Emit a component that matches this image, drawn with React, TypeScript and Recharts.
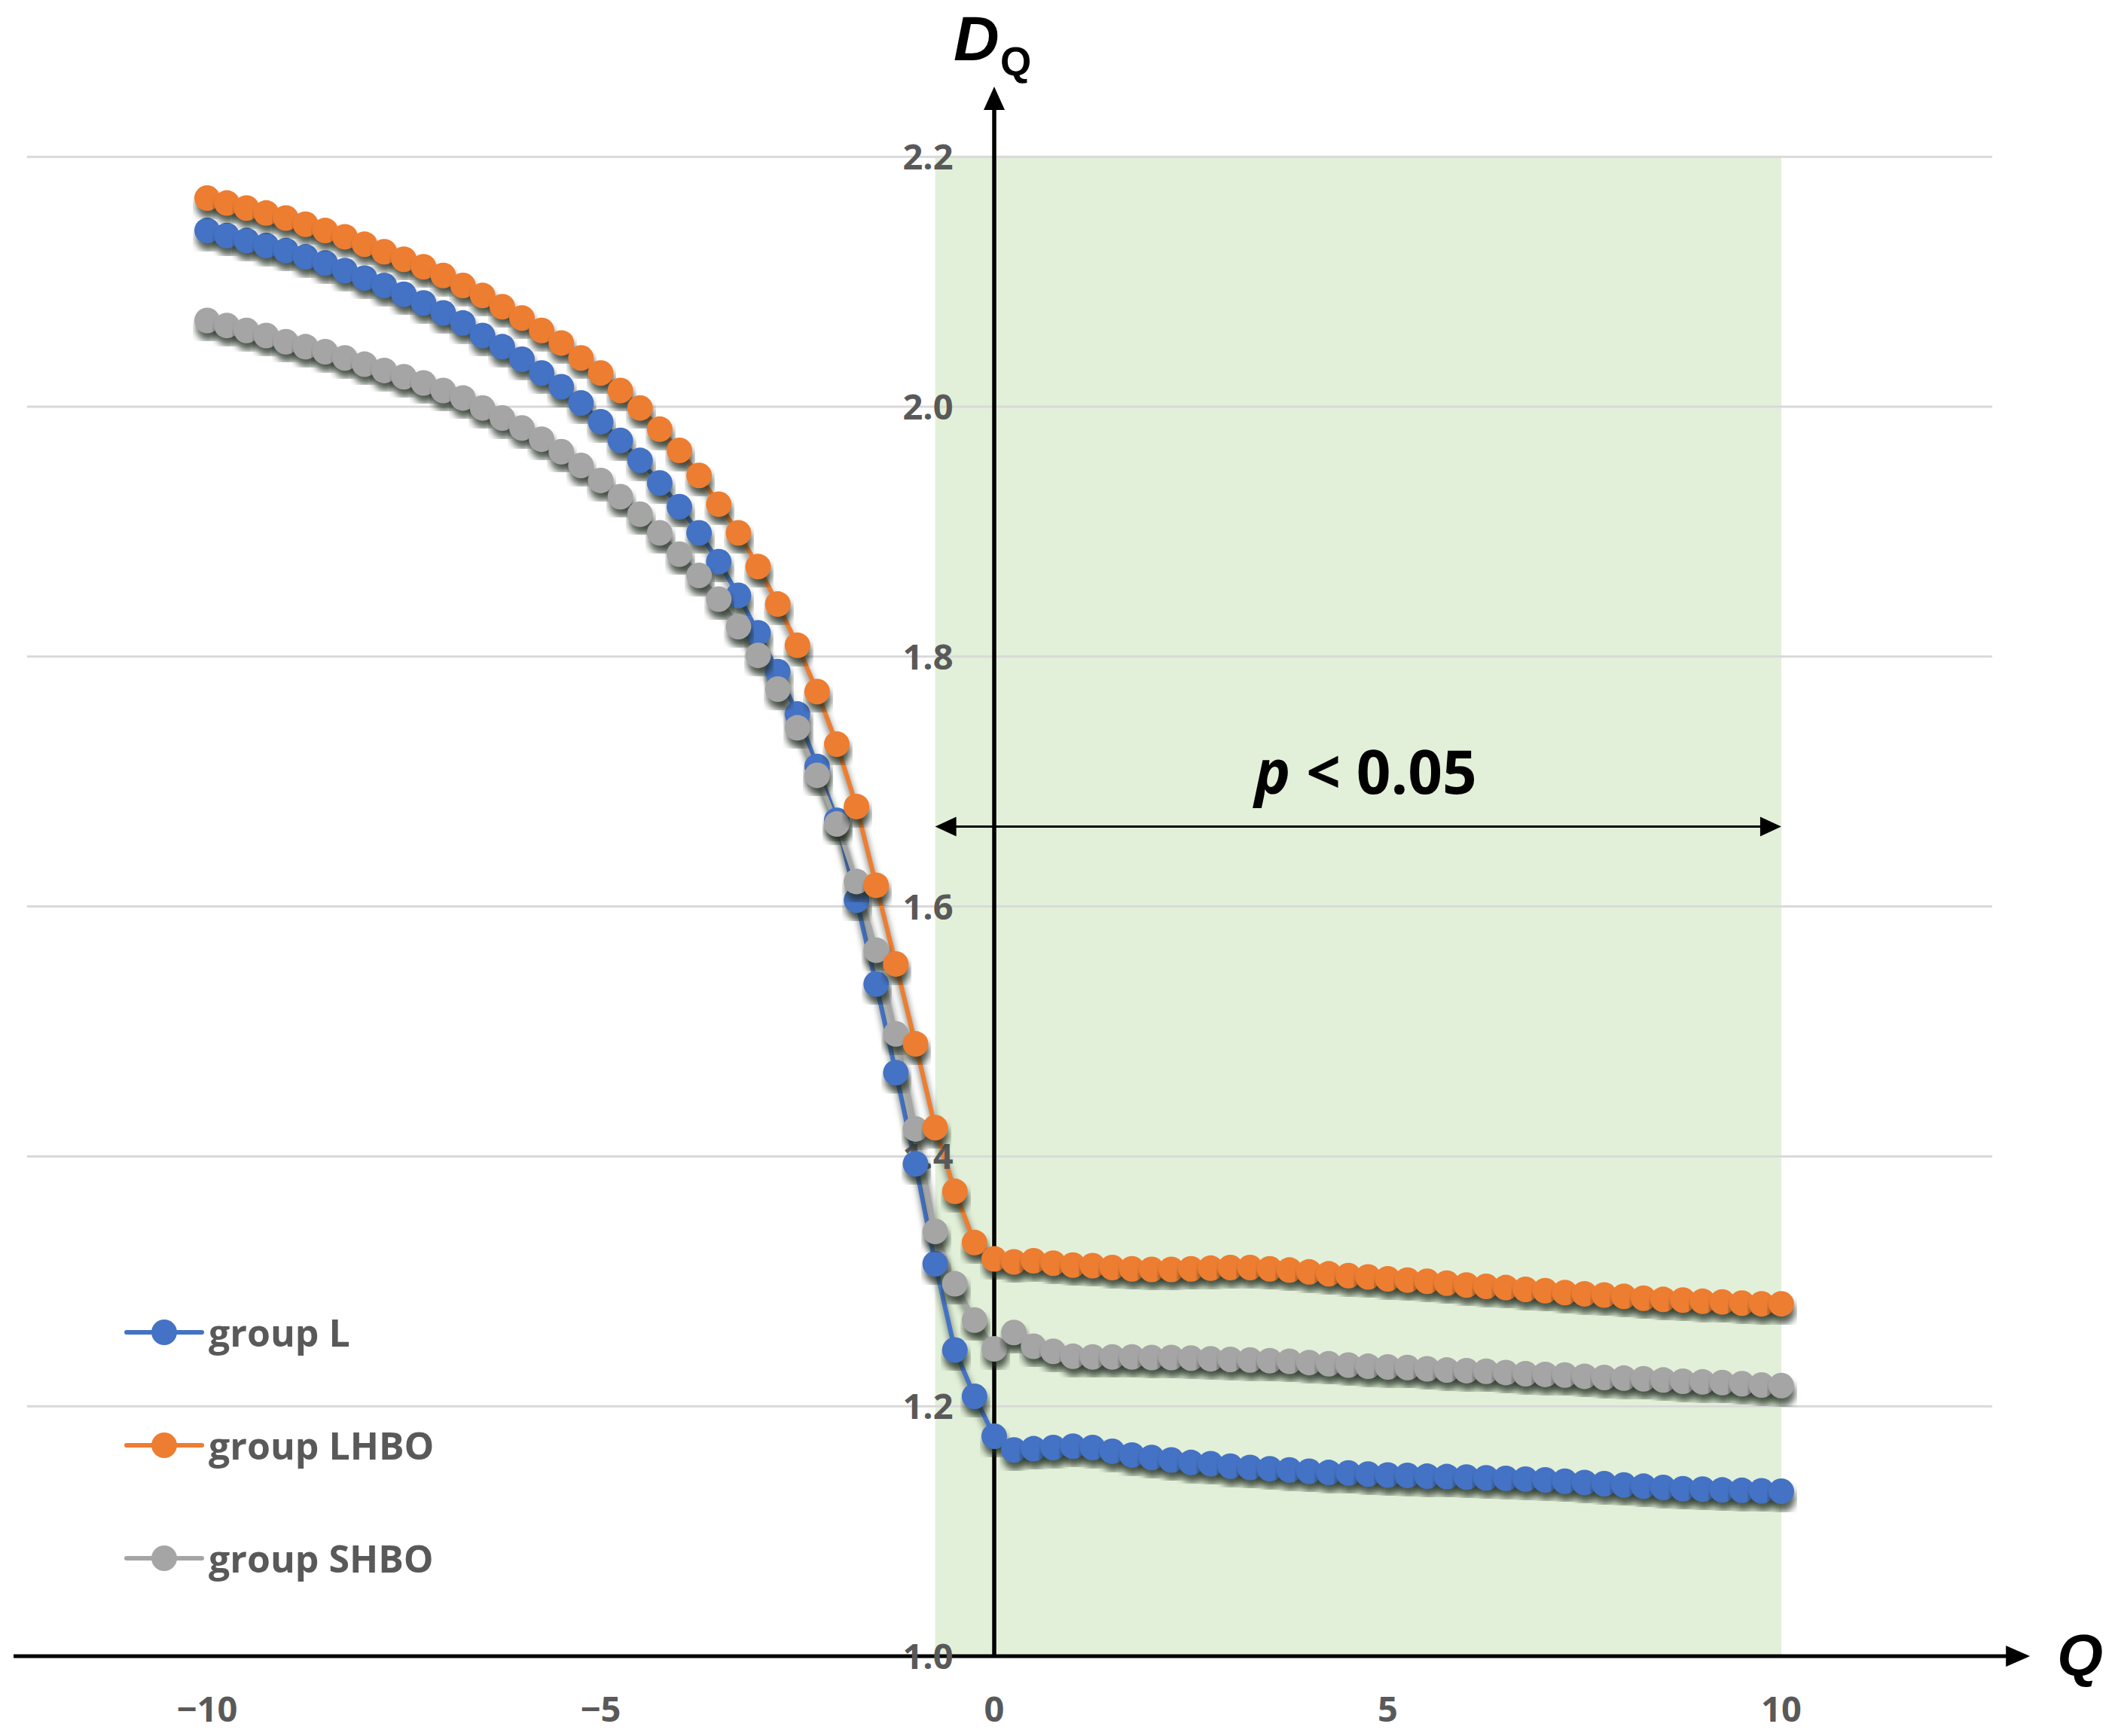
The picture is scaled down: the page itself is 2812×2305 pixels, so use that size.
import React from 'react';
import { LineChart, Line, XAxis, YAxis, ReferenceArea, ReferenceLine, ReferenceDot, Legend } from 'recharts';

// Q grid of the multifractal spectrum
const qValues = [
  -10, -9.75, -9.5, -9.25, -9, -8.75, -8.5, -8.25, -8, -7.75, -7.5, -7.25, -7, -6.75, -6.5, -6.25,
  -6, -5.75, -5.5, -5.25, -5, -4.75, -4.5, -4.25, -4, -3.75, -3.5, -3.25, -3, -2.75, -2.5, -2.25,
  -2, -1.75, -1.5, -1.25, -1, -0.75, -0.5, -0.25, 0, 0.25, 0.5, 0.75, 1, 1.25, 1.5, 1.75,
  2, 2.25, 2.5, 2.75, 3, 3.25, 3.5, 3.75, 4, 4.25, 4.5, 4.75, 5, 5.25, 5.5, 5.75,
  6, 6.25, 6.5, 6.75, 7, 7.25, 7.5, 7.75, 8, 8.25, 8.5, 8.75, 9, 9.25, 9.5, 9.75, 10,
];

const groupL = [
  2.141, 2.137, 2.133, 2.129, 2.125, 2.120, 2.115, 2.109, 2.103, 2.097, 2.090, 2.083, 2.075, 2.067, 2.057, 2.048,
  2.038, 2.027, 2.016, 2.003, 1.988, 1.973, 1.957, 1.939, 1.920, 1.899, 1.876, 1.849, 1.819, 1.788, 1.754, 1.712,
  1.669, 1.605, 1.538, 1.467, 1.394, 1.314, 1.245, 1.208, 1.176, 1.165, 1.166, 1.167, 1.168, 1.167, 1.164, 1.161,
  1.159, 1.157, 1.155, 1.154, 1.152, 1.151, 1.150, 1.149, 1.148, 1.147, 1.1466, 1.1457, 1.145, 1.1447, 1.144, 1.1437,
  1.1433, 1.1427, 1.1423, 1.1417, 1.141, 1.140, 1.139, 1.138, 1.137, 1.136, 1.135, 1.134, 1.1337, 1.133, 1.1327, 1.1323, 1.132,
];

const groupLHBO = [
  2.167, 2.163, 2.159, 2.155, 2.151, 2.146, 2.141, 2.136, 2.130, 2.124, 2.118, 2.112, 2.105, 2.097, 2.089, 2.080,
  2.071, 2.061, 2.051, 2.039, 2.027, 2.013, 1.999, 1.982, 1.965, 1.945, 1.922, 1.899, 1.872, 1.842, 1.809, 1.772,
  1.730, 1.680, 1.617, 1.554, 1.490, 1.423, 1.372, 1.331, 1.318, 1.3155, 1.3165, 1.3145, 1.313, 1.3125, 1.311, 1.310,
  1.3095, 1.3095, 1.310, 1.3105, 1.311, 1.311, 1.310, 1.309, 1.3075, 1.306, 1.3045, 1.3035, 1.302, 1.301, 1.300, 1.2985,
  1.297, 1.296, 1.295, 1.2935, 1.2925, 1.291, 1.290, 1.289, 1.288, 1.2865, 1.2855, 1.285, 1.284, 1.2835, 1.2825, 1.282, 1.282,
];

const groupSHBO = [
  2.069, 2.065, 2.061, 2.057, 2.052, 2.048, 2.044, 2.039, 2.034, 2.029, 2.024, 2.019, 2.013, 2.007, 1.999, 1.991,
  1.983, 1.974, 1.964, 1.953, 1.941, 1.928, 1.914, 1.899, 1.882, 1.865, 1.846, 1.824, 1.801, 1.774, 1.743, 1.705,
  1.666, 1.620, 1.565, 1.498, 1.422, 1.340, 1.298, 1.269, 1.246, 1.259, 1.248, 1.244, 1.240, 1.2395, 1.2395, 1.2395,
  1.239, 1.239, 1.2385, 1.238, 1.2375, 1.237, 1.2365, 1.236, 1.235, 1.234, 1.233, 1.232, 1.2315, 1.231, 1.230, 1.229,
  1.2285, 1.228, 1.227, 1.226, 1.2255, 1.225, 1.224, 1.223, 1.2225, 1.222, 1.221, 1.220, 1.2195, 1.219, 1.218, 1.217, 1.2165,
];

const yTicks = [1.0, 1.2, 1.4, 1.6, 1.8, 2.0, 2.2];
const yTickLabels = ['1.0', '1.2', '1.4', '1.6', '1.8', '2.0', '2.2'];
const xTicks = [-10, -5, 0, 5, 10];
const xTickLabels = ['\u221210', '\u22125', '0', '5', '10'];

const seriesKeys = ['L', 'LHBO', 'SHBO'];
const seriesNames = ['group L', 'group LHBO', 'group SHBO'];
const seriesColors = ['#4472C4', '#ED7D31', '#A5A5A5'];
// drawing order: blue first, then grey, orange on top
const drawOrder = [0, 2, 1];

// significance band
const bandFrom = -0.75;
const bandTo = 10;
const bandLevel = 1.664;

const chartData = qValues.map((q, i) => ({
  q,
  L: groupL[i],
  LHBO: groupLHBO[i],
  SHBO: groupSHBO[i],
}));

const W = 2812;
const H = 2305;
// hidden axes fill the whole page: Q=0 sits at x=1320, D=1.0 at y=2199
const X_DOMAIN: [number, number] = [-12.632, 14.278];
const Y_DOMAIN: [number, number] = [0.9361, 2.3255];

const FONT = '"Open Sans", "DejaVu Sans", sans-serif';
const TITLE_FONT = '"Liberation Sans", Arial, sans-serif';
const LABEL_GREY = '#595959';

const arrow = (dir: 'up' | 'left' | 'right', len: number, half: number) => (p: any) => {
  const { cx, cy } = p;
  let pts = '';
  if (dir === 'up') pts = `${cx},${cy} ${cx - half},${cy + len} ${cx + half},${cy + len}`;
  if (dir === 'right') pts = `${cx},${cy} ${cx - len},${cy - half} ${cx - len},${cy + half}`;
  if (dir === 'left') pts = `${cx},${cy} ${cx + len},${cy - half} ${cx + len},${cy + half}`;
  return <polygon points={pts} fill="#000" />;
};

const tickText = (txt: string, anchor: 'end' | 'middle') => (p: any) => (
  <text
    x={p.cx}
    y={p.cy}
    dy="0.36em"
    textAnchor={anchor}
    fontFamily={FONT}
    fontWeight={700}
    fontSize={47}
    fill={LABEL_GREY}
  >
    {txt}
  </text>
);

const renderLegend = () => (
  <div style={{ display: 'flex', flexDirection: 'column', gap: 50 }}>
    {seriesNames.map((name, i) => (
      <div key={name} style={{ display: 'flex', alignItems: 'center', height: 100 }}>
        <svg width={100} height={40} style={{ overflow: 'visible' }}>
          <line x1={0} y1={20} x2={100} y2={20} stroke={seriesColors[i]} strokeWidth={6} strokeLinecap="round" />
          <circle cx={50} cy={20} r={17} fill={seriesColors[i]} />
        </svg>
        <span
          style={{
            marginLeft: 9,
            fontFamily: FONT,
            fontWeight: 700,
            fontSize: 50,
            color: LABEL_GREY,
            lineHeight: 1,
            whiteSpace: 'nowrap',
          }}
        >
          {name}
        </span>
      </div>
    ))}
  </div>
);

const App: React.FC = () => {
  return (
    <div style={{ width: W, height: H, position: 'relative', background: '#fff' }}>
      <style>{`body{margin:0;} .series-shadow{filter:url(#dotShadow);}`}</style>
      <svg width={1} height={1} style={{ position: 'absolute', left: 0, top: 0 }}>
        <defs>
          <filter id="dotShadow" x="-10%" y="-10%" width="120%" height="140%" colorInterpolationFilters="sRGB">
            <feGaussianBlur in="SourceAlpha" stdDeviation={5} />
            <feOffset dx={2} dy={10} result="blur" />
            <feFlood floodColor="#1f2a1f" floodOpacity={0.75} />
            <feComposite in2="blur" operator="in" result="shadow" />
            <feMerge>
              <feMergeNode in="shadow" />
              <feMergeNode in="SourceGraphic" />
            </feMerge>
          </filter>
        </defs>
      </svg>
      <LineChart width={W} height={H} data={chartData} margin={{ top: 0, right: 0, bottom: 0, left: 0 }}>
        <XAxis type="number" dataKey="q" domain={X_DOMAIN} allowDataOverflow hide />
        <YAxis type="number" domain={Y_DOMAIN} allowDataOverflow hide />

        <ReferenceArea x1={bandFrom} x2={bandTo} y1={1.0} y2={2.2} fill="#E2F0D9" fillOpacity={1} stroke="none" />

        {yTicks.slice(1).map((v) => (
          <ReferenceLine
            key={`g${v}`}
            segment={[{ x: -12.29, y: v }, { x: 12.68, y: v }]}
            stroke="#d9d9d9"
            strokeWidth={3}
          />
        ))}

        {drawOrder.map((i) => (
          <Line
            key={seriesKeys[i]}
            className="series-shadow"
            type="linear"
            dataKey={seriesKeys[i]}
            name={seriesNames[i]}
            stroke={seriesColors[i]}
            strokeWidth={6}
            dot={{ r: 17, fill: seriesColors[i], stroke: seriesColors[i], strokeWidth: 0, className: 'series-shadow' }}
            activeDot={false}
            isAnimationActive={false}
          />
        ))}

        {/* axes with arrows */}
        <ReferenceLine segment={[{ x: -12.46, y: 1.0 }, { x: 12.95, y: 1.0 }]} stroke="#000" strokeWidth={5} />
        <ReferenceDot x={13.16} y={1.0} r={0} shape={arrow('right', 32, 14)} />
        <ReferenceLine segment={[{ x: 0, y: 1.0 }, { x: 0, y: 2.24 }]} stroke="#000" strokeWidth={5.5} />
        <ReferenceDot x={0} y={2.2562} r={0} shape={arrow('up', 31, 14)} />

        {/* p < 0.05 range */}
        <ReferenceLine segment={[{ x: bandFrom + 0.2, y: bandLevel }, { x: bandTo - 0.2, y: bandLevel }]} stroke="#000" strokeWidth={3} />
        <ReferenceDot x={bandFrom} y={bandLevel} r={0} shape={arrow('left', 28, 13)} />
        <ReferenceDot x={bandTo} y={bandLevel} r={0} shape={arrow('right', 28, 13)} />
        <ReferenceDot
          x={4.72}
          y={bandLevel}
          r={0}
          shape={(p: any) => (
            <text x={p.cx} y={p.cy - 43} textAnchor="middle" fontFamily={FONT} fontWeight={700} fontSize={80} fill="#000">
              <tspan fontStyle="italic">p</tspan>
              <tspan>{' < 0.05'}</tspan>
            </text>
          )}
        />

        {/* tick labels */}
        {yTicks.map((v, i) => (
          <ReferenceDot key={`yt${v}`} x={-0.52} y={v} r={0} shape={tickText(yTickLabels[i], 'end')} />
        ))}
        {xTicks.map((v, i) => (
          <ReferenceDot key={`xt${v}`} x={v} y={0.958} r={0} shape={tickText(xTickLabels[i], 'middle')} />
        ))}

        {/* axis titles */}
        <ReferenceDot
          x={0}
          y={2.2562}
          r={0}
          shape={(p: any) => (
            <g>
              <text x={p.cx - 54} y={p.cy - 35} fontFamily={TITLE_FONT} fontWeight={700} fontStyle="italic" fontSize={84} fill="#000">
                D
              </text>
              <text x={p.cx + 8} y={p.cy - 15} fontFamily={TITLE_FONT} fontWeight={700} fontSize={53} fill="#000">
                Q
              </text>
            </g>
          )}
        />
        <ReferenceDot
          x={13.16}
          y={1.0}
          r={0}
          shape={(p: any) => (
            <text x={p.cx + 36} y={p.cy + 26} fontFamily={TITLE_FONT} fontWeight={700} fontStyle="italic" fontSize={78} fill="#000">
              Q
            </text>
          )}
        />

        <Legend
          layout="vertical"
          align="center"
          verticalAlign="middle"
          content={renderLegend}
          wrapperStyle={{ left: 168, top: 1719, width: 700, height: 400, right: 'auto', bottom: 'auto' }}
        />
      </LineChart>
    </div>
  );
};

export default App;
